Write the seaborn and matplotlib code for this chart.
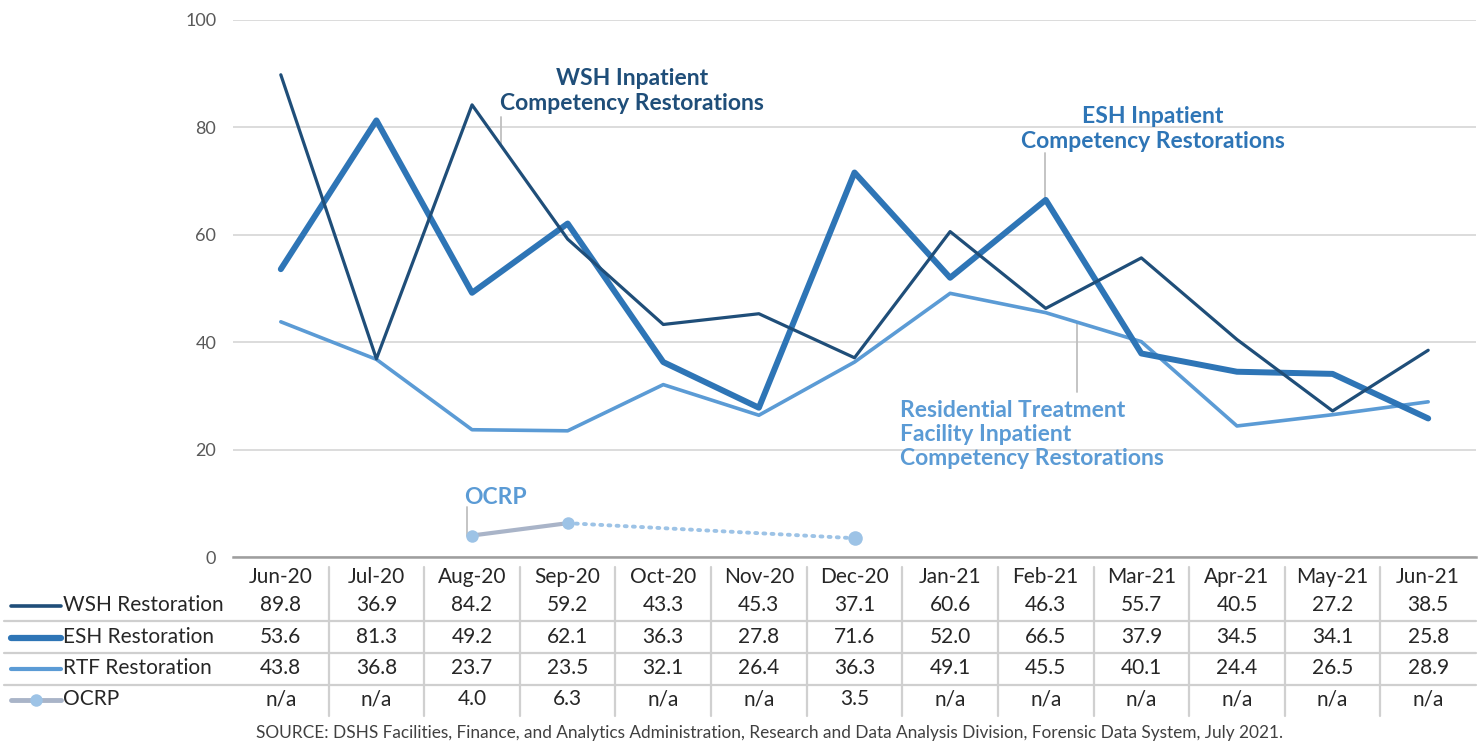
import numpy as np
import pandas as pd
import matplotlib
matplotlib.use("Agg")
import matplotlib.pyplot as plt
import matplotlib.transforms as mtransforms
from matplotlib.lines import Line2D
import seaborn as sns

# ---------------- data ----------------
months = ["Jun-20", "Jul-20", "Aug-20", "Sep-20", "Oct-20", "Nov-20", "Dec-20",
          "Jan-21", "Feb-21", "Mar-21", "Apr-21", "May-21", "Jun-21"]
wsh = [89.8, 36.9, 84.2, 59.2, 43.3, 45.3, 37.1, 60.6, 46.3, 55.7, 40.5, 27.2, 38.5]
esh = [53.6, 81.3, 49.2, 62.1, 36.3, 27.8, 71.6, 52.0, 66.5, 37.9, 34.5, 34.1, 25.8]
rtf = [43.8, 36.8, 23.7, 23.5, 32.1, 26.4, 36.3, 49.1, 45.5, 40.1, 24.4, 26.5, 28.9]
ocrp = [np.nan, np.nan, 4.0, 6.3, np.nan, np.nan, 3.5,
        np.nan, np.nan, np.nan, np.nan, np.nan, np.nan]
series_names = ["WSH Restoration", "ESH Restoration", "RTF Restoration", "OCRP"]
y_ticks = [0, 20, 40, 60, 80, 100]
source_text = ("SOURCE: DSHS Facilities, Finance, and Analytics Administration, Research and "
               "Data Analysis Division, Forensic Data System, July 2021.")

C_WSH = "#1F4E79"
C_ESH = "#2E75B6"
C_RTF = "#5B9BD5"
C_OCRP_LINE = "#A9B4C8"
C_OCRP_MK = "#9DC3E6"
TXT = "#262626"
LEADER = "#BFBFBF"

sns.set_theme(style="white")
plt.rcParams["font.family"] = ["Lato", "DejaVu Sans"]

W, H = 1482, 744
fig = plt.figure(figsize=(W / 100, H / 100), dpi=100)


def fx(px):
    return px / W


def fy(py):
    return 1 - py / H


ax = fig.add_axes([fx(233), fy(557), fx(1476) - fx(233), fy(20) - fy(557)])
tab = fig.add_axes([fx(233), fy(718), fx(1476) - fx(233), fy(560) - fy(718)], sharex=ax)

idx = np.arange(len(months))
df = pd.DataFrame({"idx": idx, "month": months, "WSH": wsh, "ESH": esh, "RTF": rtf, "OCRP": ocrp})

# ---------------- main lines ----------------
sns.lineplot(data=df, x="idx", y="WSH", ax=ax, color=C_WSH, linewidth=2.3, zorder=4)
sns.lineplot(data=df, x="idx", y="ESH", ax=ax, color=C_ESH, linewidth=4.3, zorder=3)
sns.lineplot(data=df, x="idx", y="RTF", ax=ax, color=C_RTF, linewidth=2.6, zorder=2)

# OCRP: solid between consecutive observed months, dotted across gaps
oc = df.dropna(subset=["OCRP"]).reset_index(drop=True)
for k in range(len(oc) - 1):
    seg = oc.iloc[k:k + 2]
    if seg["idx"].iloc[1] - seg["idx"].iloc[0] == 1:
        sns.lineplot(data=seg, x="idx", y="OCRP", ax=ax, color=C_OCRP_LINE,
                     linewidth=3.0, zorder=5)
    else:
        ax.plot(seg["idx"], seg["OCRP"], color=C_OCRP_MK, linewidth=2.8,
                linestyle=(0, (0.5, 1.6)), dash_capstyle="round", zorder=5)
sizes = [9] * (len(oc) - 1) + [10.5]
for (_, r), s in zip(oc.iterrows(), sizes):
    ax.plot([r["idx"]], [r["OCRP"]], marker="o", markersize=s, color=C_OCRP_MK,
            markeredgewidth=0, zorder=6)

ax.set_xlim(-0.5, len(months) - 0.5)
ax.set_ylim(0, 100)
ax.set_yticks(y_ticks)
ax.set_yticklabels([str(v) for v in y_ticks], fontsize=13, color="#595959")
ax.tick_params(axis="y", length=0, pad=12)
ax.set_xticks([])
ax.set_xlabel("")
ax.set_ylabel("")
ax.grid(axis="y", color="#D9D9D9", linewidth=1.3)
ax.set_axisbelow(True)
for s in ["top", "right", "left"]:
    ax.spines[s].set_visible(False)
ax.spines["bottom"].set_color("#9E9E9E")
ax.spines["bottom"].set_linewidth(1.8)
ax.spines["bottom"].set_zorder(1)

# ---------------- annotations ----------------
ANN_FS = 16.5
# WSH
ax.text(3.67, 86.8, "WSH Inpatient\nCompetency Restorations", ha="center", va="center",
        fontsize=ANN_FS, fontweight="bold", color=C_WSH, linespacing=1.2)
x_w = 2.3
ax.plot([x_w, x_w], [82.0, wsh[2] - (wsh[2] - wsh[3]) * (x_w - 2)], color=LEADER, lw=1.3, zorder=1)
# ESH
ax.text(9.12, 79.7, "ESH Inpatient\nCompetency Restorations", ha="center", va="center",
        fontsize=ANN_FS, fontweight="bold", color=C_ESH, linespacing=1.2)
ax.plot([7.99, 7.99], [75.2, esh[8] - 0.6], color=LEADER, lw=1.3, zorder=1)
# RTF
ax.text(6.48, 22.8, "Residential Treatment\nFacility Inpatient\nCompetency Restorations",
        ha="left", va="center", fontsize=ANN_FS, fontweight="bold", color=C_RTF, linespacing=1.2)
x_r = 8.33
ax.plot([x_r, x_r], [30.8, rtf[8] - (rtf[8] - rtf[9]) * (x_r - 8)], color=LEADER, lw=1.3, zorder=1)
# OCRP
ax.text(2.24, 11.1, "OCRP", ha="center", va="center", fontsize=ANN_FS, fontweight="bold", color=C_RTF)
ax.plot([1.95, 1.95], [9.3, ocrp[2]], color=LEADER, lw=1.3, zorder=1)

# ---------------- data table ----------------
TFS = 15
tab.set_ylim(718, 560)
tab.axis("off")
row_y = [605, 637, 668, 699]
header_y = 577
for i, m in enumerate(months):
    tab.text(i, header_y, m, ha="center", va="center", fontsize=TFS, color=TXT)
for vals, y in zip([wsh, esh, rtf, ocrp], row_y):
    for i, v in enumerate(vals):
        lab = "n/a" if (v is None or (isinstance(v, float) and np.isnan(v))) else f"{v:.1f}"
        tab.text(i, y, lab, ha="center", va="center", fontsize=TFS, color=TXT)

# vertical separators
for i in range(len(months) - 1):
    tab.plot([i + 0.5, i + 0.5], [567, 716], color="#D0D0D0", lw=1.6, clip_on=False)

blend = mtransforms.blended_transform_factory(fig.transFigure, tab.transData)
for y in [621, 653, 685]:
    fig.add_artist(Line2D([fx(4), fx(1476)], [y, y], transform=blend, color="#CFCFCF", lw=1.6))

# left labels with legend keys
key_styles = [dict(color=C_WSH, lw=2.6), dict(color=C_ESH, lw=4.5),
              dict(color=C_RTF, lw=3.0), dict(color=C_OCRP_LINE, lw=3.5)]
for name, y, st in zip(series_names, row_y, key_styles):
    fig.add_artist(Line2D([fx(11), fx(61)], [y + 1, y + 1], transform=blend,
                          solid_capstyle="round", **st))
    t = fig.text(fx(63), 0, name, ha="left", va="center", fontsize=TFS, color=TXT)
    t.set_transform(blend)
    t.set_position((fx(63), y))
fig.add_artist(Line2D([fx(36)], [700], transform=blend, marker="o", markersize=9,
                      color=C_OCRP_MK, markeredgewidth=0))

fig.text(fx(770), fy(733), source_text, ha="center", va="center", fontsize=12.4, color="#404040")

fig.savefig("out.png", dpi=100)
